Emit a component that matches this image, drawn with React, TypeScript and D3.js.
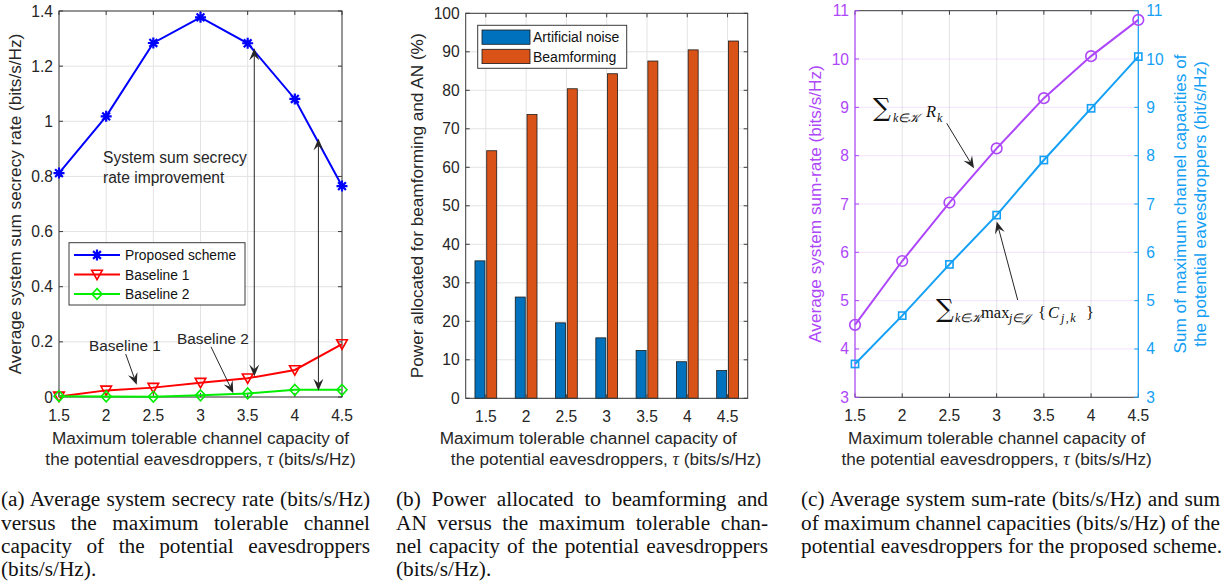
import React, { useEffect, useRef } from "react";
import * as d3 from "d3";

// ---------- data ----------
const tau = [1.5, 2, 2.5, 3, 3.5, 4, 4.5];
const proposedRate = [0.812, 1.018, 1.284, 1.377, 1.283, 1.081, 0.765];
const baseline1Rate = [0.002, 0.024, 0.034, 0.052, 0.068, 0.098, 0.192];
const baseline2Rate = [0.003, 0.002, 0.001, 0.006, 0.013, 0.026, 0.026];
const anPower = [35.7, 26.3, 19.6, 15.7, 12.4, 9.5, 7.2];
const bfPower = [64.3, 73.7, 80.4, 84.3, 87.6, 90.5, 92.8];
const sumRate = [4.5, 5.82, 7.03, 8.15, 9.19, 10.06, 10.81];
const sumCapacity = [3.69, 4.69, 5.75, 6.77, 7.91, 8.98, 10.05];

const tauTicks = [1.5, 2, 2.5, 3, 3.5, 4, 4.5];
const tauTickLabels = ["1.5", "2", "2.5", "3", "3.5", "4", "4.5"];
const aTicks = [0, 0.2, 0.4, 0.6, 0.8, 1, 1.2, 1.4];
const aTickLabels = ["0", "0.2", "0.4", "0.6", "0.8", "1", "1.2", "1.4"];
const bTicks = [0, 10, 20, 30, 40, 50, 60, 70, 80, 90, 100];
const cTicks = [3, 4, 5, 6, 7, 8, 9, 10, 11];

const legendA = ["Proposed scheme", "Baseline 1", "Baseline 2"];
const legendB = ["Artificial noise", "Beamforming"];

const captionA = [
  "(a) Average system secrecy rate (bits/s/Hz)",
  "versus the maximum tolerable channel",
  "capacity of the potential eavesdroppers",
  "(bits/s/Hz).",
];
const captionB = [
  "(b) Power allocated to beamforming and",
  "AN versus the maximum tolerable chan-",
  "nel capacity of the potential eavesdroppers",
  "(bits/s/Hz).",
];
const captionC = [
  "(c) Average system sum-rate (bits/s/Hz) and sum",
  "of maximum channel capacities (bits/s/Hz) of the",
  "potential eavesdroppers for the proposed scheme.",
];

// ---------- styles ----------
const SANS = "'Liberation Sans', Arial, Helvetica, sans-serif";
const SERIF = "'Liberation Serif', 'Times New Roman', serif";
const MATH = "'DejaVu Serif', 'Liberation Serif', serif";
const AX = "#262626";
const BOX = "#3a3a3a";
const GRID = "#e3e3e3";
const TICK_FS = 15.6;
const LABEL_FS = 17.2;
const BLUE = "#0000ff";
const RED = "#ff0000";
const GREEN = "#00ee00";
const AN_COL = "#0072BD";
const BF_COL = "#D95319";
const PURPLE = "#AE47FA";
const SKY = "#14A0F5";

// ---------- helpers ----------
function Arrow({ x1, y1, x2, y2, both = false, color = AX }: any) {
  const L = 12, W = 10, notch = 0.62;
  const head = (tx: number, ty: number, fx: number, fy: number) => {
    const a = Math.atan2(ty - fy, tx - fx);
    const dx = Math.cos(a), dy = Math.sin(a);
    const px = -dy, py = dx;
    const p = [
      [tx, ty],
      [tx - L * dx + (W / 2) * px, ty - L * dy + (W / 2) * py],
      [tx - notch * L * dx, ty - notch * L * dy],
      [tx - L * dx - (W / 2) * px, ty - L * dy - (W / 2) * py],
    ];
    return { d: "M" + p.map((q) => q.join(",")).join("L") + "Z", nx: p[2][0], ny: p[2][1] };
  };
  const h2 = head(x2, y2, x1, y1);
  const h1 = both ? head(x1, y1, x2, y2) : null;
  return (
    <g>
      <line x1={h1 ? h1.nx : x1} y1={h1 ? h1.ny : y1} x2={h2.nx} y2={h2.ny} stroke={color} strokeWidth={1} />
      <path d={h2.d} fill={color} />
      {h1 && <path d={h1.d} fill={color} />}
    </g>
  );
}

const starPath = "M-5.5,0H5.5M0,-5.5V5.5M-3.9,-3.9L3.9,3.9M-3.9,3.9L3.9,-3.9";
const triDown = "M-5.3,-4.3L5.3,-4.3L0,5.2Z";
const diamond = "M0,-5.4L5,0L0,5.4L-5,0Z";

function Frame({ x0, x1, y0, y1 }: any) {
  return <rect x={x0} y={y1} width={x1 - x0} height={y0 - y1} fill="none" stroke={BOX} strokeWidth={1} />;
}

// ---------- panel A ----------
function PanelA() {
  const x = d3.scaleLinear().domain([1.5, 4.5]).range([59, 342]);
  const y = d3.scaleLinear().domain([0, 1.4]).range([397, 11]);
  const [x0, x1] = x.range();
  const [y0, y1] = y.range();
  const line = d3.line<number>().x((_, i) => x(tau[i])).y((d) => y(d));
  const series = [
    { v: proposedRate, c: BLUE, m: starPath, fill: "none" },
    { v: baseline1Rate, c: RED, m: triDown, fill: "none" },
    { v: baseline2Rate, c: GREEN, m: diamond, fill: "none" },
  ];
  const tl = 4;
  return (
    <g>
      {tauTicks.map((t) => (
        <line key={"gx" + t} x1={x(t)} x2={x(t)} y1={y0} y2={y1} stroke={GRID} />
      ))}
      {aTicks.map((t) => (
        <line key={"gy" + t} x1={x0} x2={x1} y1={y(t)} y2={y(t)} stroke={GRID} />
      ))}
      {tauTicks.map((t, i) => (
        <g key={"tx" + t}>
          <line x1={x(t)} x2={x(t)} y1={y0} y2={y0 - tl} stroke={BOX} />
          <line x1={x(t)} x2={x(t)} y1={y1} y2={y1 + tl} stroke={BOX} />
          <text x={x(t)} y={421} textAnchor="middle" fontSize={TICK_FS} fill={AX}>{tauTickLabels[i]}</text>
        </g>
      ))}
      {aTicks.map((t, i) => (
        <g key={"ty" + t}>
          <line x1={x0} x2={x0 + tl} y1={y(t)} y2={y(t)} stroke={BOX} />
          <line x1={x1} x2={x1 - tl} y1={y(t)} y2={y(t)} stroke={BOX} />
          <text x={x0 - 6} y={y(t) + 5.5} textAnchor="end" fontSize={TICK_FS} fill={AX}>{aTickLabels[i]}</text>
        </g>
      ))}
      <Frame x0={x0} x1={x1} y0={y0} y1={y1} />
      {series.map((s, k) => (
        <g key={"s" + k}>
          <path d={line(s.v) || ""} fill="none" stroke={s.c} strokeWidth={2} />
          {s.v.map((v, i) => (
            <path key={i} d={s.m} transform={`translate(${x(tau[i])},${y(v)})`} fill={s.fill} stroke={s.c} strokeWidth={k === 0 ? 2.2 : 1.6} />
          ))}
        </g>
      ))}
      {/* annotations */}
      <Arrow x1={x(3.57)} y1={y(0.074)} x2={x(3.57)} y2={y(1.265)} both />
      <Arrow x1={x(4.25)} y1={y(0.023)} x2={x(4.25)} y2={y(0.938)} both />
      <Arrow x1={x(2.207)} y1={y(0.156)} x2={x(2.324)} y2={y(0.044)} />
      <Arrow x1={x(3.111)} y1={y(0.182)} x2={x(3.348)} y2={y(0.014)} />
      <text x={89} y={350.5} fontSize={15.4} fill={AX}>Baseline 1</text>
      <text x={177} y={343.5} fontSize={15.4} fill={AX}>Baseline 2</text>
      <text x={103} y={162.5} fontSize={15.6} fill={AX}>System sum secrecy</text>
      <text x={103} y={182.5} fontSize={15.6} fill={AX}>rate improvement</text>
      {/* legend */}
      <rect x={69} y={242.7} width={176} height={62.3} fill="#fff" stroke={BOX} />
      {series.map((s, k) => {
        const ly = 255 + k * 19.5;
        return (
          <g key={"lg" + k}>
            <line x1={74} x2={120} y1={ly} y2={ly} stroke={s.c} strokeWidth={2} />
            <path d={s.m} transform={`translate(97,${ly})`} fill="none" stroke={s.c} strokeWidth={k === 0 ? 2.2 : 1.6} />
            <text x={125} y={ly + 5} fontSize={13.8} fill="#111">{legendA[k]}</text>
          </g>
        );
      })}
      {/* labels */}
      <text transform={`translate(21,${(y0 + y1) / 2}) rotate(-90)`} textAnchor="middle" fontSize={LABEL_FS} fill={AX}>
        Average system sum secrecy rate (bits/s/Hz)
      </text>
      <text x={(x0 + x1) / 2} y={444} textAnchor="middle" fontSize={LABEL_FS} fill={AX}>Maximum tolerable channel capacity of</text>
      <text x={(x0 + x1) / 2} y={464.5} textAnchor="middle" fontSize={LABEL_FS} fill={AX}>
        the potential eavesdroppers, <tspan fontFamily={SERIF} fontStyle="italic" fontSize={18}>τ</tspan> (bits/s/Hz)
      </text>
    </g>
  );
}

// ---------- panel B ----------
function PanelB() {
  const x = d3.scaleLinear().domain([1.25, 4.75]).range([465.7, 747.7]);
  const y = d3.scaleLinear().domain([0, 100]).range([398.3, 13.3]);
  const [x0, x1] = x.range();
  const [y0, y1] = y.range();
  const bw = 0.124;
  const off = 0.073;
  const tl = 4;
  return (
    <g>
      {tauTicks.map((t) => (
        <line key={"gx" + t} x1={x(t)} x2={x(t)} y1={y0} y2={y1} stroke={GRID} />
      ))}
      {bTicks.map((t) => (
        <line key={"gy" + t} x1={x0} x2={x1} y1={y(t)} y2={y(t)} stroke={GRID} />
      ))}
      {tau.map((t, i) => (
        <g key={"b" + t}>
          <rect x={x(t - off - bw / 2)} width={x(bw) - x(0)} y={y(anPower[i])} height={y0 - y(anPower[i])} fill={AN_COL} stroke="#1a1a1a" strokeWidth={0.8} />
          <rect x={x(t + off - bw / 2)} width={x(bw) - x(0)} y={y(bfPower[i])} height={y0 - y(bfPower[i])} fill={BF_COL} stroke="#1a1a1a" strokeWidth={0.8} />
        </g>
      ))}
      {tauTicks.map((t, i) => (
        <g key={"tx" + t}>
          <line x1={x(t)} x2={x(t)} y1={y0} y2={y0 - tl} stroke={BOX} />
          <line x1={x(t)} x2={x(t)} y1={y1} y2={y1 + tl} stroke={BOX} />
          <text x={x(t)} y={422} textAnchor="middle" fontSize={TICK_FS} fill={AX}>{tauTickLabels[i]}</text>
        </g>
      ))}
      {bTicks.map((t) => (
        <g key={"ty" + t}>
          <line x1={x0} x2={x0 + tl} y1={y(t)} y2={y(t)} stroke={BOX} />
          <line x1={x1} x2={x1 - tl} y1={y(t)} y2={y(t)} stroke={BOX} />
          <text x={x0 - 6} y={y(t) + 5.5} textAnchor="end" fontSize={TICK_FS} fill={AX}>{t}</text>
        </g>
      ))}
      <Frame x0={x0} x1={x1} y0={y0} y1={y1} />
      {/* legend */}
      <rect x={477.7} y={25.3} width={149} height={43} fill="#fff" stroke={BOX} />
      {[AN_COL, BF_COL].map((c, k) => (
        <g key={"lg" + k}>
          <rect x={482} y={30 + k * 19.3} width={48} height={14.3} fill={c} stroke="#1a1a1a" strokeWidth={0.8} />
          <text x={533} y={42.2 + k * 19.3} fontSize={14} fill="#111">{legendB[k]}</text>
        </g>
      ))}
      <text transform={`translate(423,${(y0 + y1) / 2}) rotate(-90)`} textAnchor="middle" fontSize={LABEL_FS} fill={AX}>
        Power allocated for beamforming and AN (%)
      </text>
      <text x={588.3} y={444} textAnchor="middle" fontSize={LABEL_FS} fill={AX}>Maximum tolerable channel capacity of</text>
      <text x={606} y={464.5} textAnchor="middle" fontSize={LABEL_FS} fill={AX}>
        the potential eavesdroppers, <tspan fontFamily={SERIF} fontStyle="italic" fontSize={18}>τ</tspan> (bits/s/Hz)
      </text>
    </g>
  );
}

// ---------- panel C ----------
function PanelC() {
  const x = d3.scaleLinear().domain([1.5, 4.5]).range([855, 1138.3]);
  const y = d3.scaleLinear().domain([3, 11]).range([397.3, 10.7]);
  const [x0, x1] = x.range();
  const [y0, y1] = y.range();
  const line = d3.line<number>().x((_, i) => x(tau[i])).y((d) => y(d));
  const tl = 4;
  const mathFS = 16.5;
  const subFS = 12;
  const sigFS = 25;
  return (
    <g>
      {tauTicks.map((t) => (
        <line key={"gx" + t} x1={x(t)} x2={x(t)} y1={y0} y2={y1} stroke={GRID} />
      ))}
      {cTicks.map((t) => (
        <line key={"gy" + t} x1={x0} x2={x1} y1={y(t)} y2={y(t)} stroke={PURPLE} strokeOpacity={0.15} />
      ))}
      <line x1={x0} x2={x1} y1={y0} y2={y0} stroke={BOX} />
      <line x1={x0} x2={x1} y1={y1} y2={y1} stroke={BOX} />
      {tauTicks.map((t, i) => (
        <g key={"tx" + t}>
          <line x1={x(t)} x2={x(t)} y1={y0} y2={y0 - tl} stroke={BOX} />
          <line x1={x(t)} x2={x(t)} y1={y1} y2={y1 + tl} stroke={BOX} />
          <text x={x(t)} y={421} textAnchor="middle" fontSize={TICK_FS} fill={AX}>{tauTickLabels[i]}</text>
        </g>
      ))}
      {cTicks.map((t) => (
        <g key={"ty" + t}>
          <line x1={x0} x2={x0 + tl} y1={y(t)} y2={y(t)} stroke={PURPLE} />
          <line x1={x1} x2={x1 - tl} y1={y(t)} y2={y(t)} stroke={SKY} />
          <text x={x0 - 6} y={y(t) + 5.5} textAnchor="end" fontSize={TICK_FS} fill={PURPLE}>{t}</text>
          <text x={x1 + 8} y={y(t) + 5.5} textAnchor="start" fontSize={TICK_FS} fill={SKY}>{t}</text>
        </g>
      ))}
      <line x1={x0} x2={x0} y1={y0} y2={y1} stroke={PURPLE} strokeWidth={1.2} />
      <line x1={x1} x2={x1} y1={y0} y2={y1} stroke={SKY} strokeWidth={1.2} />
      <path d={line(sumRate) || ""} fill="none" stroke={PURPLE} strokeWidth={2} />
      {sumRate.map((v, i) => (
        <circle key={"c" + i} cx={x(tau[i])} cy={y(v)} r={5.3} fill="none" stroke={PURPLE} strokeWidth={1.6} />
      ))}
      <path d={line(sumCapacity) || ""} fill="none" stroke={SKY} strokeWidth={2} />
      {sumCapacity.map((v, i) => (
        <rect key={"q" + i} x={x(tau[i]) - 3.6} y={y(v) - 3.6} width={7.2} height={7.2} fill="none" stroke={SKY} strokeWidth={1.6} />
      ))}
      {/* math annotations */}
      <g fontFamily={SERIF} fill="#111">
        <text x={873} y={116} fontSize={sigFS} fontFamily={MATH}>∑</text>
        <text x={893} y={121.5} fontSize={subFS} fontStyle="italic">k∈𝒦</text>
        <text x={926} y={117.3} fontSize={mathFS} fontStyle="italic">R</text>
        <text x={937} y={122} fontSize={subFS} fontStyle="italic">k</text>

        <text x={936} y={317} fontSize={sigFS} fontFamily={MATH}>∑</text>
        <text x={955} y={322} fontSize={subFS} fontStyle="italic">k∈𝒦</text>
        <text x={981} y={318.3} fontSize={mathFS}>max</text>
        <text x={1009} y={322} fontSize={subFS} fontStyle="italic">j∈𝒥</text>
        <text x={1038} y={318.3} fontSize={mathFS}>{"{"}</text>
        <text x={1048} y={318.3} fontSize={mathFS} fontStyle="italic">C</text>
        <text x={1061} y={322} fontSize={subFS} fontStyle="italic" letterSpacing={1.5}>j,k</text>
        <text x={1086} y={318.3} fontSize={mathFS}>{"}"}</text>
      </g>
      <Arrow x1={946.7} y1={123.3} x2={974} y2={168.3} />
      <Arrow x1={1017.7} y1={300} x2={996.7} y2={221.5} />
      {/* labels */}
      <text transform={`translate(821,${(y0 + y1) / 2}) rotate(-90)`} textAnchor="middle" fontSize={LABEL_FS} fill={PURPLE}>
        Average system sum-rate (bits/s/Hz)
      </text>
      <text transform={`translate(1186,${(y0 + y1) / 2}) rotate(-90)`} textAnchor="middle" fontSize={LABEL_FS} fill={SKY}>
        Sum of maximum channel capacities of
      </text>
      <text transform={`translate(1205.5,${(y0 + y1) / 2}) rotate(-90)`} textAnchor="middle" fontSize={LABEL_FS} fill={SKY}>
        the potential eavesdroppers (bit/s/Hz)
      </text>
      <text x={(x0 + x1) / 2} y={444} textAnchor="middle" fontSize={LABEL_FS} fill={AX}>Maximum tolerable channel capacity of</text>
      <text x={(x0 + x1) / 2} y={464.5} textAnchor="middle" fontSize={LABEL_FS} fill={AX}>
        the potential eavesdroppers, <tspan fontFamily={SERIF} fontStyle="italic" fontSize={18}>τ</tspan> (bits/s/Hz)
      </text>
    </g>
  );
}

// ---------- captions ----------
function Caption({ lines, x0, width }: any) {
  const baselines = [506, 530, 553, 576];
  return (
    <g fontFamily={SERIF} fontSize={21.3} fill="#111">
      {lines.map((l: string, i: number) => {
        const isLast = i === lines.length - 1;
        return (
          <text key={i} x={x0} y={baselines[i]} data-justify={isLast ? undefined : width} style={{ whiteSpace: "pre" }}>
            {l}
          </text>
        );
      })}
    </g>
  );
}

export default function App() {
  const ref = useRef<SVGSVGElement>(null);
  useEffect(() => {
    if (!ref.current) return;
    d3.select(ref.current)
      .selectAll<SVGTextElement, unknown>("text[data-justify]")
      .each(function () {
        const target = +(this.getAttribute("data-justify") || 0);
        this.style.wordSpacing = "0px";
        const natural = this.getComputedTextLength();
        const spaces = ((this.textContent || "").match(/ /g) || []).length;
        if (spaces > 0) this.style.wordSpacing = `${(target - natural) / spaces}px`;
      });
  }, []);
  return (
    <svg
      ref={ref}
      width={1225}
      height={582}
      viewBox="0 0 1225 582"
      style={{ position: "absolute", left: 0, top: 0, background: "#fff" }}
      fontFamily={SANS}
    >
      <rect x={0} y={0} width={1225} height={582} fill="#fff" />
      <PanelA />
      <PanelB />
      <PanelC />
      <Caption lines={captionA} x0={1} width={369} />
      <Caption lines={captionB} x0={396} width={372} />
      <Caption lines={captionC} x0={801} width={419} />
    </svg>
  );
}
